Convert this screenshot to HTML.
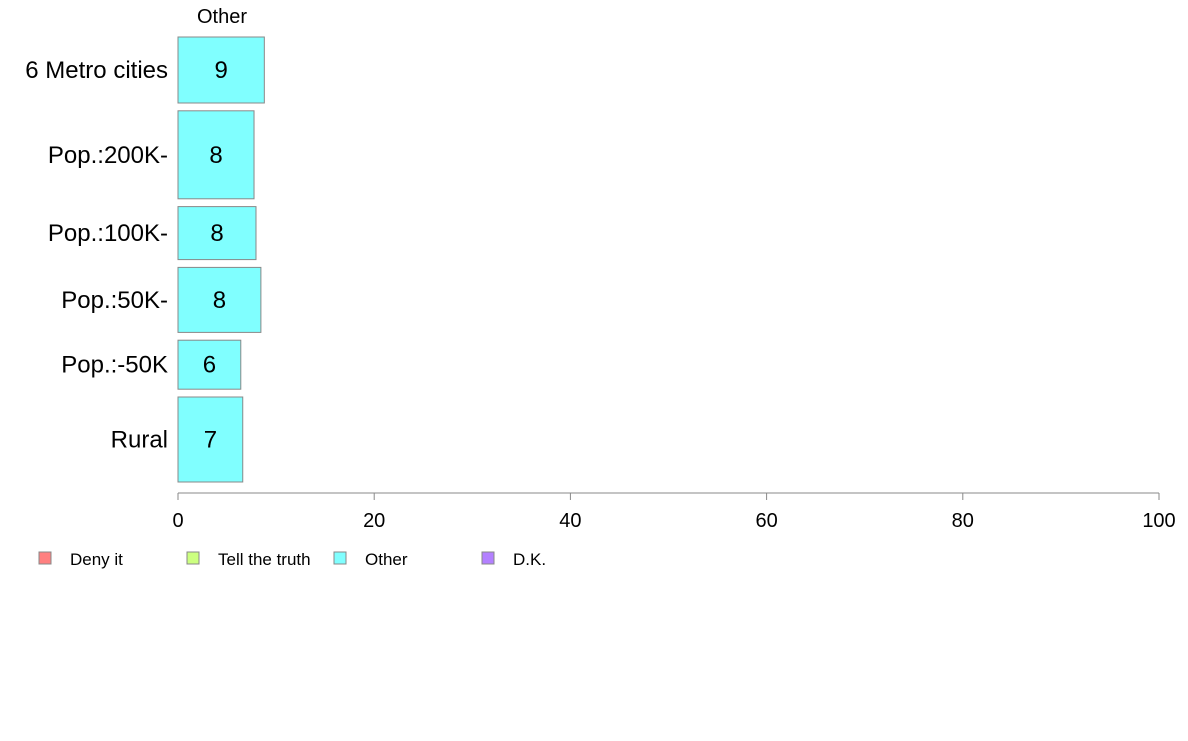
<!DOCTYPE html>
<html><head><meta charset="utf-8"><style>
body{margin:0;background:#fff;font-family:"Liberation Sans",Arial,sans-serif}
svg text{font-family:"Liberation Sans",Arial,sans-serif}
</style></head><body>
<svg id="chart" width="1188" height="736" xmlns="http://www.w3.org/2000/svg"></svg>
<script>
const categories=["6 Metro cities","Pop.:200K-","Pop.:100K-","Pop.:50K-","Pop.:-50K","Rural"];
const otherValues=[8.8,7.75,7.95,8.45,6.4,6.6];
const groupSizes=[66,88,53,65,49,85];
const xTicks=[0,20,40,60,80,100];
const legendLabels=["Deny it","Tell the truth","Other","D.K."];
const legendColors=["#ff8080","#ccff80","#80ffff","#b380ff"];
const NS="http://www.w3.org/2000/svg";
const svg=document.getElementById('chart');
function mk(t,a,txt){const e=document.createElementNS(NS,t);for(const k in a)e.setAttribute(k,a[k]);if(txt!==undefined)e.textContent=txt;svg.appendChild(e);return e;}
const x0=178,x1=1159,yTop=37,yBot=482,gap=7.8;
const xs=v=>x0+(v/100)*(x1-x0);
const totalSize=groupSizes.reduce((a,b)=>a+b,0);
const avail=(yBot-yTop)-gap*(categories.length-1);
let y=yTop;
const t0=mk('text',{x:222,y:23,'font-size':20,'text-anchor':'middle'},'Other');


categories.forEach((c,i)=>{
  const h=groupSizes[i]/totalSize*avail;
  const r=mk('rect',{x:x0,y:y,width:xs(otherValues[i])-x0,height:h,fill:'#80ffff',stroke:'#888','stroke-width':1});
  
  
  const v=mk('text',{x:(x0+xs(otherValues[i]))/2,y:y+h/2+8,'font-size':24,'text-anchor':'middle'},Math.round(otherValues[i]));
  
  
  const l=mk('text',{x:168,y:y+h/2+8,'font-size':24,'text-anchor':'end'},c);
  
  
  y+=h+gap;
});
const ax=mk('line',{x1:x0,x2:x1,y1:493,y2:493,stroke:'#888'});


xTicks.forEach(t=>{
  const tk=mk('line',{x1:xs(t),x2:xs(t),y1:493,y2:500,stroke:'#888'});
  
  
  const tl=mk('text',{x:xs(t),y:527,'font-size':20,'text-anchor':'middle'},t);
  
  
});
const lx=[39,187,334,482];
legendLabels.forEach((l,i)=>{
  const s=mk('rect',{x:lx[i],y:552,width:12,height:12,fill:legendColors[i],stroke:'#888'});
  
  
  const t=mk('text',{x:lx[i]+31,y:565,'font-size':17},l);
  
  
});
</script>
</body></html>
